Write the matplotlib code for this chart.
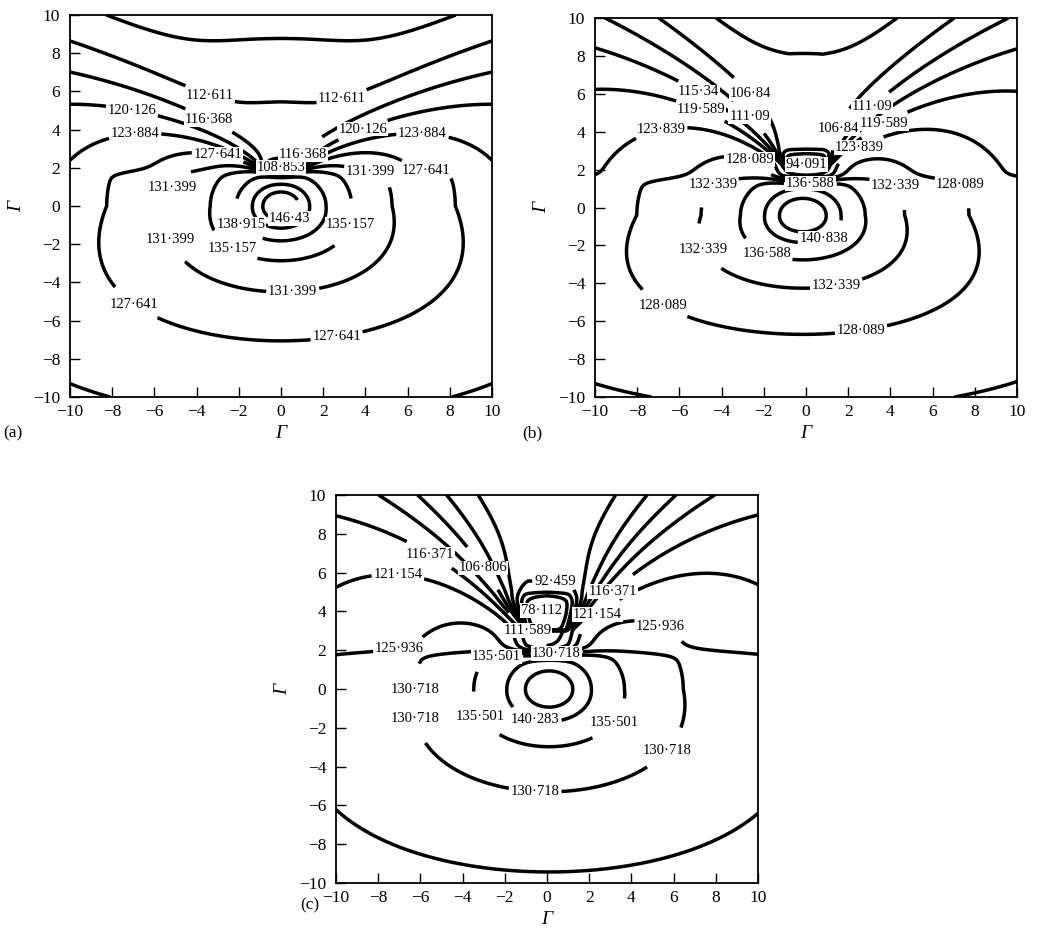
import numpy as np
import matplotlib.pyplot as plt

plt.rcParams['font.family'] = ['Liberation Serif', 'DejaVu Serif']
plt.rcParams['axes.unicode_minus'] = True

# contour levels (dB) of the three maps
levels_a = [108.853, 112.611, 116.368, 120.126, 123.884, 127.641,
            131.399, 135.157, 138.915, 142.672, 146.43]
levels_b = [94.091, 98.341, 102.59, 106.84, 111.09, 115.34, 119.589,
            123.839, 128.089, 132.339, 136.588, 140.838, 145.088]
levels_c = [78.112, 82.894, 87.677, 92.459, 97.242, 102.024, 106.806,
            111.589, 116.371, 121.154, 125.936, 130.718, 135.501,
            140.283, 145.066]

# source / screen model for each map
model_a = dict(A=143.94, K=19.2, x0=0.0, y0=0.0, ax=1.17, egg=0.045,
               cy=1.6, cx=0.4, psi_c=33, psi_w=18, Db=1.2, Dp=15.8,
               bw=0.5, ys=1.8, yt=2.3, Dk=16, Dh=5, Lh=1.0, sx=0.25)
model_b = dict(A=144.07, K=20.0, x0=-0.15, y0=-0.4, ax=1.25, egg=0.06,
               cy=2.2, cx=0.8, psi_c=45, psi_w=20, Db=2.0, Dp=21,
               bw=1.1, ys=1.5, yt=2.8, Dk=12, Dh=8, Lh=1.2, sx=0.35)
model_c = dict(A=144.55, K=19.1, x0=0.1, y0=0.0, ax=1.2, egg=0.03,
               cy=3.0, cx=0.9, psi_c=54, psi_w=22, Db=3.6, Dp=29,
               bw=1.0, ys=1.9, yt=4.8, Dk=16, Dh=10, Lh=1.6, sx=0.45)

# where the inline values sit: (level, x, y)
labels_a = [(112.611, -3.13, 6.6), (112.611, 2.65, 6.6), (120.126, -7.0, 5.34),
            (116.368, -3.13, 5.13), (120.126, 3.74, 4.4), (123.884, -6.9, 3.45),
            (123.884, 6.7, 3.55), (116.368, 0.57, 3.0), (127.641, -3.05, 2.3),
            (108.853, 0.1, 1.0), (131.399, -4.45, 0.73), (131.399, 4.07, 1.0),
            (127.641, 6.73, 1.1), (146.43, 0.5, -0.84), (138.915, -2.1, -1.1),
            (135.157, 3.6, -1.1), (131.399, -5.35, -1.8), (135.157, -2.4, -2.45),
            (131.399, 0.57, -4.66), (127.641, -6.9, -5.1), (127.641, 2.65, -6.9)]
labels_b = [(115.34, -4.9, 6.5), (106.84, -2.1, 6.6), (111.09, 2.56, 6.0),
            (119.589, -5.0, 5.1), (111.09, -2.3, 5.2), (106.84, 1.0, 4.4),
            (119.589, 3.7, 4.4), (123.839, -6.8, 3.7), (123.839, 2.65, 2.9),
            (128.089, -2.8, 2.05), (94.091, 0.05, 2.05), (132.339, -4.3, 1.0),
            (136.588, 0.2, 0.63), (132.339, 4.1, 1.0), (128.089, 7.2, 1.0),
            (140.838, 0.8, -1.55), (132.339, -4.7, -2.1), (136.588, -1.85, -2.4),
            (132.339, 1.47, -4.3), (128.089, -6.8, -5.25), (128.089, 2.65, -6.8)]
labels_c = [(116.371, -5.64, 6.8), (106.806, -2.37, 6.75), (92.459, 0.38, 5.7),
            (116.371, 2.98, 5.2), (121.154, -7.1, 5.25), (78.112, -0.19, 4.07),
            (121.154, 2.5, 3.7), (125.936, 5.35, 3.2), (125.936, -7.1, 2.8),
            (111.589, -1.04, 2.7), (135.501, -2.3, 0.98), (130.718, 0.47, 0.98),
            (130.718, -5.7, -0.15), (130.718, -6.5, -1.6), (135.501, -3.4, -1.6),
            (140.283, -0.57, -1.7), (135.501, 3.2, -1.75), (130.718, 5.6, -3.05),
            (130.718, -0.57, -5.35)]


def sigmoid(t):
    return 0.5 * (1 + np.tanh(t / 2))


def field(X, Y, p):
    """Level of a point source below a screen carrying a lossy block."""
    # slightly egg-shaped spreading, wider on the far side of the screen
    axx = p['ax'] * (1 + p['egg'] * np.clip(p['y0'] - Y, 0, None))
    rho = np.sqrt(((X - p['x0']) / axx) ** 2 + (Y - p['y0']) ** 2 + 0.01)
    level = p['A'] - p['K'] * np.log10(rho)

    above = sigmoid((Y - p['ys']) / 0.1)
    # shadow above the screen deepens with elevation seen from the block
    psi = np.degrees(np.arctan2(Y - p['cy'],
                                np.clip(np.abs(X) - p['cx'], 0, None) + 0.01))
    tilt = 0.5 * (1 + np.tanh((psi - p['psi_c']) / p['psi_w']))
    loss = above * (p['Db'] + p['Dp'] * tilt)

    # extra loss that hugs the block
    dx = np.clip(np.abs(X) - p['bw'], 0, None)
    dy = np.clip(Y - p['yt'], 0, None)
    loss += above * p['Dh'] * np.exp(-np.hypot(dx, dy) / p['Lh'])

    inside = (sigmoid((p['bw'] - np.abs(X)) / p['sx'])
              * sigmoid((Y - p['ys']) / 0.15)
              * sigmoid((p['yt'] - Y) / 0.15))
    return level - loss - p['Dk'] * inside


def fmt(v):
    return '{:g}'.format(v).replace('.', '\u00b7')


g = np.linspace(-10, 10, 801)
X, Y = np.meshgrid(g, g)

fig = plt.figure(figsize=(10.37, 9.41), dpi=100)
rects = [[70 / 1037, 1 - 397 / 941, 422 / 1037, 382 / 941],
         [595 / 1037, 1 - 397 / 941, 422 / 1037, 379 / 941],
         [336 / 1037, 1 - 883 / 941, 422 / 1037, 388 / 941]]
panels = [(model_a, levels_a, labels_a, '(a)', (3, 433)),
          (model_b, levels_b, labels_b, '(b)', (522, 433)),
          (model_c, levels_c, labels_c, '(c)', (300, 905))]

for rect, (model, levels, labels, tag, tag_xy) in zip(rects, panels):
    ax = fig.add_axes(rect)
    Z = field(X, Y, model)
    # one contour set per level so each value is labelled on its own line
    for lv in levels:
        cs = ax.contour(X, Y, Z, levels=[lv], colors='black', linewidths=2.5)
        spots = [(lx, ly) for l, lx, ly in labels if l == lv]
        if spots and len(cs.allsegs[0]) > 0:
            texts = ax.clabel(cs, manual=spots, inline=True, inline_spacing=2,
                              fmt=fmt, fontsize=10.5)
            for t in texts:
                t.set_rotation(0)
                t.set_bbox(dict(facecolor='white', edgecolor='none', pad=0.6))
                t.set_zorder(5)
    ax.set_xlim(-10, 10)
    ax.set_ylim(-10, 10)
    ax.set_xticks(np.arange(-10, 11, 2))
    ax.set_yticks(np.arange(-10, 11, 2))
    ax.tick_params(direction='in', length=7, width=1, labelsize=12.5,
                   top=False, right=False)
    ax.tick_params(axis='y', pad=7)
    ax.tick_params(axis='x', pad=5)
    for sp in ax.spines.values():
        sp.set_linewidth(1.3)
        sp.set_zorder(6)
    ax.set_xlabel('\u0393', fontsize=14, fontstyle='italic', labelpad=4)
    ax.set_ylabel('\u0393', fontsize=14, fontstyle='italic', labelpad=6)
    fig.text(tag_xy[0] / 1037, 1 - tag_xy[1] / 941, tag, fontsize=12.5,
             va='center', ha='left')

fig.savefig('out.png', dpi=100)
